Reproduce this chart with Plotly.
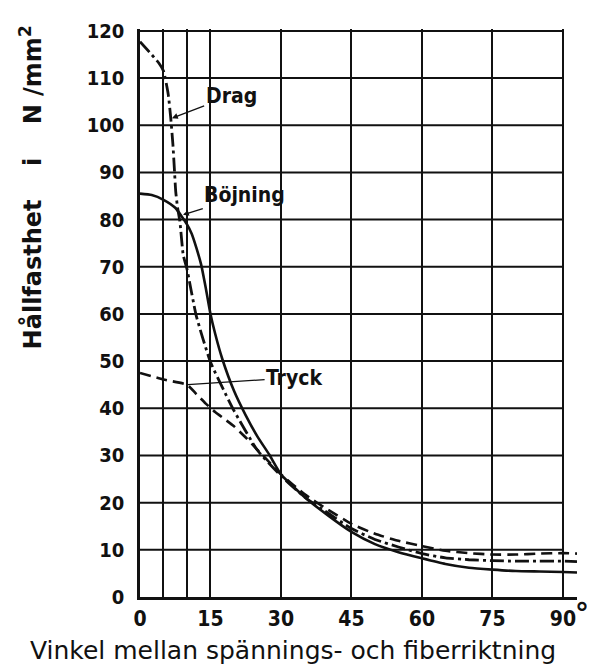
import plotly.graph_objects as go

# ---- data ----
drag_angle = [0, 2, 4, 5, 6, 6.5, 7, 7.3, 7.6, 8, 8.5, 9.2, 10, 12, 15, 17.5, 20, 25, 30, 35, 40, 45, 50, 55, 60, 65, 70, 75, 80, 85, 90, 93]
drag_value = [117.7, 115.5, 113.2, 111.5, 106.6, 102, 96, 91, 86, 82.5, 79.5, 72.5, 69.5, 59.5, 49.8, 44.5, 39.5, 31.1, 25.7, 21.2, 17.8, 14.5, 12.2, 10.6, 9.2, 8.3, 7.9, 7.7, 7.6, 7.6, 7.6, 7.5]

bojning_angle = [0, 2.5, 5, 7.5, 10, 11, 12, 13, 14, 15, 16, 17.5, 20, 22.5, 25, 27.5, 30, 35, 40, 45, 50, 55, 60, 65, 70, 75, 80, 85, 90, 93]
bojning_value = [85.5, 85.2, 84.2, 82.5, 79, 77, 74, 70.5, 65.5, 60, 55.8, 50.5, 43.7, 38.5, 34, 30.2, 26, 21.2, 17.3, 13.8, 11.2, 9.5, 8.2, 7.0, 6.2, 5.8, 5.5, 5.4, 5.3, 5.2]

tryck_angle = [0, 5, 10, 12, 14, 16, 18, 20, 22.5, 25, 27.5, 30, 35, 40, 45, 50, 55, 60, 65, 70, 75, 80, 85, 90, 93]
tryck_value = [47.5, 46.1, 45, 43, 41, 39.2, 37.7, 36.2, 33.8, 31.2, 28.6, 26.0, 21.8, 18.5, 15.5, 13.4, 11.9, 10.8, 9.8, 9.3, 9.0, 9.0, 9.2, 9.3, 9.2]

x_ticks = [0, 15, 30, 45, 60, 75, 90]
x_minor_grid = [5, 10]
y_ticks = [0, 10, 20, 30, 40, 50, 60, 70, 80, 90, 100, 110, 120]

labels = ["Drag", "Böjning", "Tryck"]
label_pos = [(19.4, 106.3), (22.3, 85.2), (32.8, 46.5)]
label_tip = [(6.8, 101.5), (9.15, 81.0), (10.2, 45.0)]

x_title = "Vinkel mellan spännings- och fiberriktning"
NB = "\u00a0"
y_title = "Hållfasthet" + NB * 4 + "i" + NB * 4 + "N" + NB + "/mm<sup>2</sup>"

FONT = "DejaVu Sans Condensed, DejaVu Sans, sans-serif"
INK = "#111111"

fig = go.Figure()

fig.add_trace(go.Scatter(x=tryck_angle, y=tryck_value, mode="lines",
                         line=dict(color=INK, width=2.6, dash="11px,6px", shape="spline", smoothing=0.5),
                         name="Tryck", showlegend=False))
fig.add_trace(go.Scatter(x=drag_angle, y=drag_value, mode="lines",
                         line=dict(color=INK, width=2.8, dash="14px,4px,3px,4px", shape="spline", smoothing=0.5),
                         name="Drag", showlegend=False))
fig.add_trace(go.Scatter(x=bojning_angle, y=bojning_value, mode="lines",
                         line=dict(color=INK, width=2.6, shape="spline", smoothing=0.5),
                         name="Böjning", showlegend=False))

# horizontal grid (ends at 90 degrees)
for yv in y_ticks[1:]:
    fig.add_shape(type="line", xref="x", yref="y", x0=0, x1=x_ticks[-1], y0=yv, y1=yv,
                  line=dict(color=INK, width=2), layer="below")

# curve labels with leader lines
for txt, (lx, ly), (tx, ty) in zip(labels, label_pos, label_tip):
    fig.add_annotation(x=tx, y=ty, xref="x", yref="y", ax=lx, ay=ly, axref="x", ayref="y",
                       text=txt, showarrow=True, arrowhead=2 if txt != "Tryck" else 0,
                       arrowsize=0.9, arrowwidth=1.3, arrowcolor=INK, standoff=0,
                       font=dict(family=FONT, size=21, color=INK, weight="bold"))

# degree sign after 90
fig.add_annotation(x=1.0, y=0.0, xref="paper", yref="paper", text="°", showarrow=False,
                   xanchor="left", yanchor="top", xshift=-4, yshift=2,
                   font=dict(family="DejaVu Sans, sans-serif", size=28, color=INK, weight="bold"))

# axis titles
fig.add_annotation(x=0.35, y=-0.095, xref="paper", yref="paper", text=x_title, showarrow=False,
                   xanchor="center", yanchor="middle",
                   font=dict(family="DejaVu Sans, sans-serif", size=25, color=INK))
fig.add_annotation(x=-0.249, y=0.7215, xref="paper", yref="paper", text=y_title, showarrow=False,
                   textangle=-90, xanchor="center", yanchor="middle",
                   font=dict(family="DejaVu Sans, sans-serif", size=24, color=INK, weight="bold"))

fig.update_xaxes(range=[0, 93], tickvals=x_ticks,
                 showgrid=True, gridcolor=INK, gridwidth=2, zeroline=False,
                 minor=dict(tickvals=x_minor_grid, showgrid=True, gridcolor=INK, gridwidth=2, ticks=""),
                 showline=True, linecolor=INK, linewidth=2.5, ticks="",
                 ticklabelstandoff=1,
                 tickfont=dict(family=FONT, size=21, color=INK, weight="bold"))
fig.update_yaxes(range=[0, 120.4], tickvals=y_ticks, showgrid=False, zeroline=False,
                 showline=True, linecolor=INK, linewidth=2.5, ticks="",
                 ticklabelstandoff=9,
                 tickfont=dict(family=FONT, size=20, color=INK, weight="bold"))

# the page adds an 8px body margin, so the figure is 8px smaller and shifted
fig.update_layout(width=587, height=660, margin=dict(l=132, r=18, t=11, b=71),
                  plot_bgcolor="white", paper_bgcolor="white", showlegend=False)

fig.write_html("out.html")
